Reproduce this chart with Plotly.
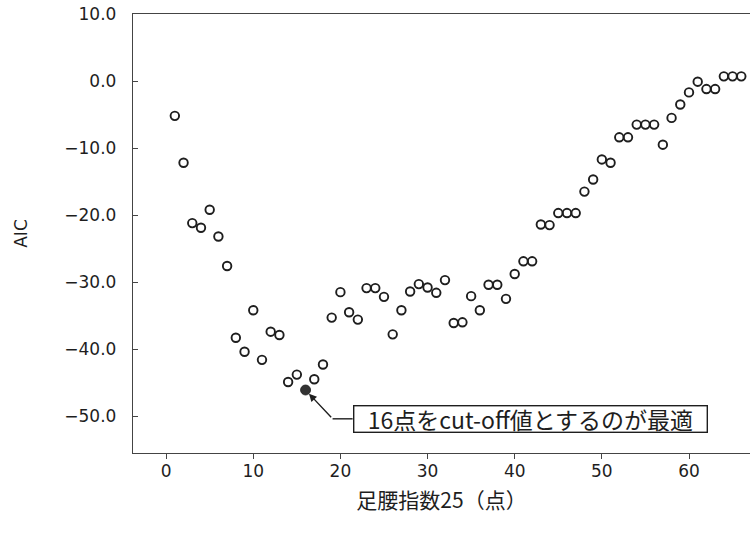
import plotly.graph_objects as go

# 足腰指数25 の各 cut-off 値と、そのときの AIC
cutoff_scores = list(range(1, 67))
aic_values = [
    -5.2, -12.2, -21.2, -21.9, -19.2, -23.2, -27.6, -38.3, -40.4, -34.2,
    -41.6, -37.4, -37.9, -44.9, -43.8, -46.1, -44.5, -42.3, -35.3, -31.5,
    -34.5, -35.6, -30.9, -30.9, -32.2, -37.8, -34.2, -31.4, -30.3, -30.8,
    -31.6, -29.7, -36.1, -36.0, -32.1, -34.2, -30.4, -30.4, -32.5, -28.8,
    -26.9, -26.9, -21.4, -21.5, -19.7, -19.7, -19.7, -16.5, -14.7, -11.7,
    -12.2, -8.4, -8.4, -6.5, -6.5, -6.5, -9.5, -5.5, -3.5, -1.7,
    -0.1, -1.2, -1.2, 0.7, 0.7, 0.7,
]
best_cutoff = 16

x_tick_vals = [0, 10, 20, 30, 40, 50, 60]
y_tick_vals = [10, 0, -10, -20, -30, -40, -50]

x_title = "足腰指数25（点）"
y_title = "AIC"
note_text = "16点をcut-off値とするのが最適"

INK = "#1e1e1e"
AXIS = "#444444"
LATIN = "DejaVu Sans, Liberation Sans, sans-serif"
CJK = "Noto Sans CJK JP, sans-serif"

other_x = [x for x in cutoff_scores if x != best_cutoff]
other_y = [y for x, y in zip(cutoff_scores, aic_values) if x != best_cutoff]
best_y = aic_values[cutoff_scores.index(best_cutoff)]

fig = go.Figure()
fig.add_trace(go.Scatter(
    x=other_x, y=other_y, mode="markers",
    marker=dict(symbol="circle-open", size=8.5, color=INK,
                line=dict(width=1.9, color=INK)),
    showlegend=False, hoverinfo="x+y",
))
fig.add_trace(go.Scatter(
    x=[best_cutoff], y=[best_y], mode="markers",
    marker=dict(symbol="circle", size=10, color="#333333",
                line=dict(width=0.8, color=INK)),
    showlegend=False, hoverinfo="x+y",
))

# 最適点への引き出し線（横の短い線＋矢印）
elbow_x, elbow_y = 19.1, -50.4
box_left_x = 21.4
fig.add_shape(type="line", x0=elbow_x, y0=elbow_y, x1=box_left_x, y1=elbow_y,
              xref="x", yref="y", line=dict(color=INK, width=1.4))
fig.add_annotation(
    x=best_cutoff, y=best_y, ax=elbow_x, ay=elbow_y,
    xref="x", yref="y", axref="x", ayref="y",
    text="", showarrow=True, arrowhead=2, arrowsize=1.1, arrowwidth=1.4,
    arrowcolor=INK, standoff=5,
)
fig.add_annotation(
    x=box_left_x, y=elbow_y, xref="x", yref="y", xanchor="left", yanchor="middle",
    text=note_text, showarrow=False, width=352, height=25, align="center",
    font=dict(family=CJK, size=23, color=INK),
    bordercolor=INK, borderwidth=1.4, borderpad=0, bgcolor="white",
)

fig.update_layout(
    width=750, height=535,
    margin=dict(l=133, r=0, t=14, b=82),
    paper_bgcolor="white", plot_bgcolor="white",
    font=dict(family=LATIN, size=17, color=INK),
    xaxis=dict(
        range=[-3.8, 67], tickvals=x_tick_vals, ticks="outside", ticklen=5,
        tickwidth=1.2, tickcolor=AXIS, showline=True, linecolor=AXIS, linewidth=1.4,
        mirror=True, showgrid=False, zeroline=False, ticklabelstandoff=-3,
        tickfont=dict(family=LATIN, size=17, color=INK),
        title=dict(text=x_title, font=dict(family=CJK, size=21, color=INK), standoff=13),
    ),
    yaxis=dict(
        range=[-55.5, 10], tickvals=y_tick_vals, tickformat=".1f", ticks="inside",
        ticklen=5, tickwidth=1.2, tickcolor=AXIS, showline=True, linecolor=AXIS,
        linewidth=1.4, showgrid=False, zeroline=False, ticklabelstandoff=12,
        tickfont=dict(family=LATIN, size=17, color=INK),
        title=dict(text=y_title, font=dict(family=LATIN, size=17, color=INK), standoff=32),
    ),
)

fig.write_html("out.html")
